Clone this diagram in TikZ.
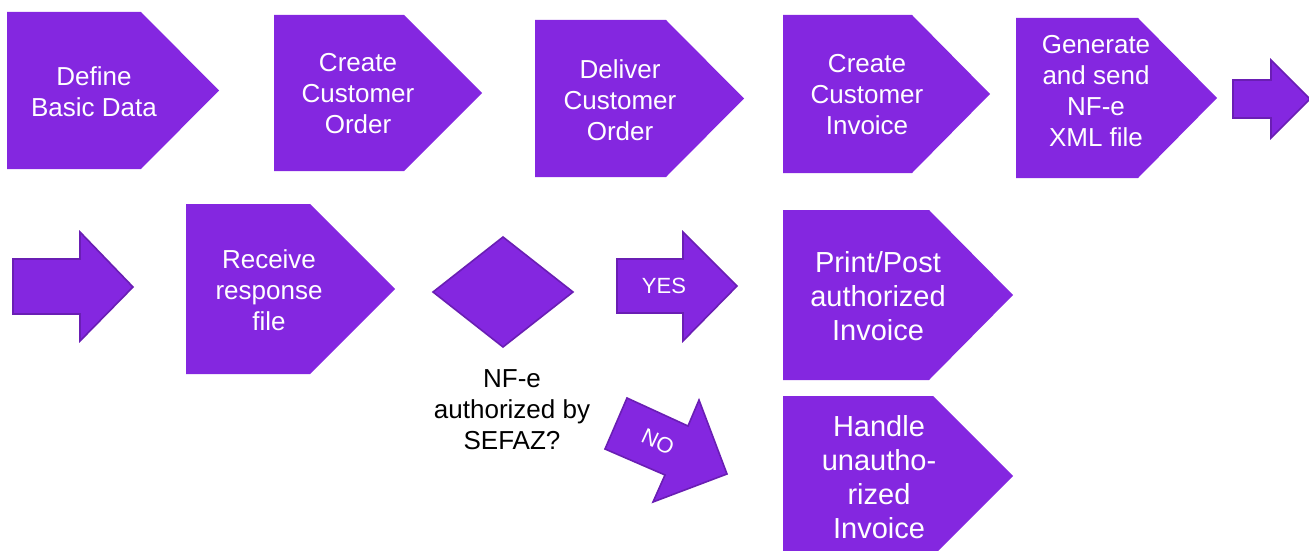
\documentclass[tikz,border=0pt]{standalone}
\usepackage{fontspec}
\setmainfont{Liberation Sans}
\definecolor{pfill}{HTML}{8427E0}
\definecolor{pedge}{HTML}{6A1EB4}
\newcommand\pentshape[5]{\fill[proc] (#1,#2) -- (#3,#2) -- (#4,{(#2+#5)/2}) -- (#3,#5) -- (#1,#5) -- cycle;}
\begin{document}
\begin{tikzpicture}[x=1pt,y=-1pt,
  proc/.style={fill=pfill},
  blockarrow/.style={fill=pfill,draw=pedge,line width=1.6pt,line join=miter},
  ptext/.style={text=white,align=center,font=\fontsize{26}{31}\selectfont,inner sep=0pt},
  qtext/.style={text=white,align=center,font=\fontsize{29}{34}\selectfont,inner sep=0pt},
  dtext/.style={text=black,align=center,font=\fontsize{26}{31}\selectfont,inner sep=0pt},
  atext/.style={text=white,font=\fontsize{22}{26}\selectfont,inner sep=0pt}]
\useasboundingbox (0,0) rectangle (1309,551);
% top row
\pentshape{7}{12}{141}{219}{169}
\node[ptext] (basic) at (94,92) {Define\\Basic Data};
\pentshape{274}{15}{404}{482}{171}
\node[ptext] (order) at (358,94) {Create\\Customer\\Order};
\pentshape{535}{20}{666}{744}{177}
\node[ptext] (deliver) at (620,100) {Deliver\\Customer\\Order};
\pentshape{783}{15}{912}{990}{173}
\node[ptext] (invoice) at (867,95) {Create\\Customer\\Invoice};
\pentshape{1016}{18}{1138}{1217}{178}
\node[ptext] (nfe) at (1096,91) {Generate\\and send\\NF-e\\XML file};
\draw[blockarrow] (1233,80) -- (1271,80) -- (1271,60) -- (1310,99) -- (1271,138) -- (1271,118) -- (1233,118) -- cycle;
% second row
\draw[blockarrow] (13,259) -- (80,259) -- (80,232) -- (133,287) -- (80,341) -- (80,314) -- (13,314) -- cycle;
\pentshape{186}{204}{310}{395}{374}
\node[ptext] (response) at (269,290) {Receive\\response\\file};
\draw[blockarrow] (433,292) -- (503,237) -- (573,292) -- (503,347) -- cycle;
\node[dtext] (question) at (512,410) {NF-e\\authorized by\\SEFAZ?};
\draw[blockarrow] (617,259) -- (683,259) -- (683,232) -- (737,286) -- (683,341) -- (683,313) -- (617,313) -- cycle;
\node[atext] (yes) at (664,286) {YES};
\draw[blockarrow] (627,398) -- (688,426) -- (699,400) -- (727,474) -- (653,502) -- (665,475) -- (605,449) -- cycle;
\node[atext,rotate=-25] (no) at (658,442) {NO};
\pentshape{783}{210}{929}{1013}{380}
\node[qtext] (print) at (878,296) {Print/Post\\authorized\\Invoice};
\pentshape{783}{396}{933}{1013}{556}
\node[qtext] (handle) at (879,477) {Handle\\unautho-\\rized\\Invoice};
\end{tikzpicture}
\end{document}
